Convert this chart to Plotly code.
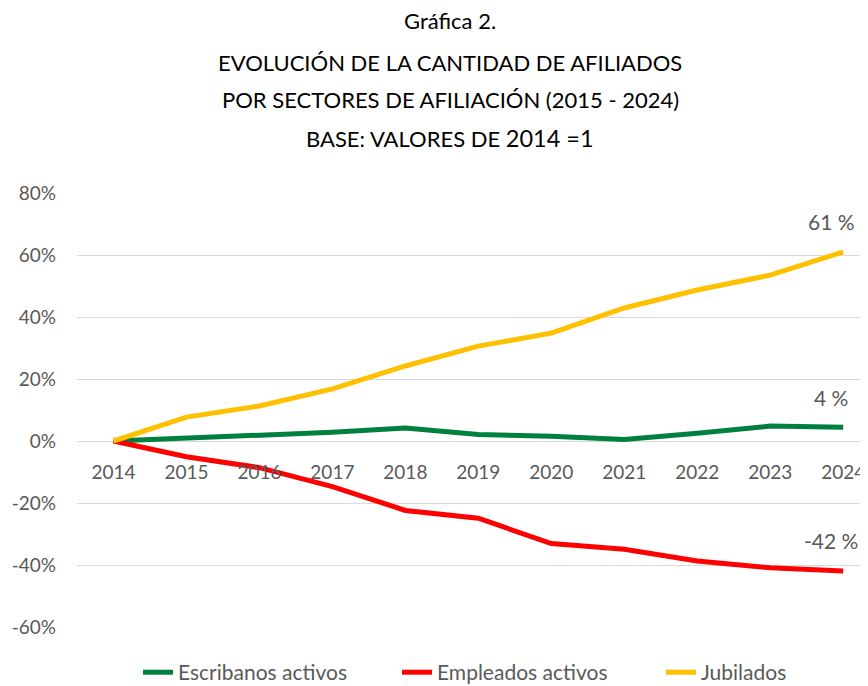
import plotly.graph_objects as go

years = ["2014", "2015", "2016", "2017", "2018", "2019", "2020", "2021", "2022", "2023", "2024"]
escribanos = [0.0, 0.010, 0.017, 0.028, 0.042, 0.021, 0.015, 0.005, 0.025, 0.048, 0.044]
empleados = [0.0, -0.051, -0.086, -0.147, -0.224, -0.249, -0.331, -0.349, -0.387, -0.409, -0.419]
jubilados = [0.0, 0.077, 0.113, 0.168, 0.242, 0.306, 0.348, 0.429, 0.487, 0.535, 0.610]
y_ticks = [-0.6, -0.4, -0.2, 0.0, 0.2, 0.4, 0.6, 0.8]
y_ticklabels = ["-60%", "-40%", "-20%", "0%", "20%", "40%", "60%", "80%"]

series = [
    ("Escribanos activos", escribanos, "#00803E", "legend"),
    ("Empleados activos", empleados, "#FF0000", "legend2"),
    ("Jubilados", jubilados, "#FFC000", "legend3"),
]
legend_x = {"legend": 0.0771, "legend2": 0.4046, "legend3": 0.7383}

FONT = "Lato, 'Open Sans', sans-serif"
GRAY = "#595959"

fig = go.Figure()
for name, vals, color, lg in series:
    fig.add_trace(go.Scatter(
        x=years, y=vals, mode="lines", name=name,
        line=dict(color=color, width=5),
        hoverinfo="skip", legend=lg,
    ))

# end labels
last = len(years) - 1
for name, vals, color, lg in series:
    fig.add_annotation(
        x=last, y=vals[-1], xref="x", yref="y",
        text=f"{round(vals[-1] * 100)} %", showarrow=False,
        yshift=30, xshift=-12,
        font=dict(family=FONT, size=21, color=GRAY),
    )

# title lines
title_lines = [
    ("Gráfica 2.", 1.3986),
    ("EVOLUCIÓN DE LA CANTIDAD DE AFILIADOS", 1.3018),
    ("POR SECTORES DE AFILIACIÓN (2015 - 2024)", 1.2143),
    ("BASE: VALORES DE <span style='font-size:23.5px'>2014 =1</span>", 1.1267),
]
for txt, yy in title_lines:
    fig.add_annotation(
        x=0.4716, y=yy, xref="paper", yref="paper",
        text=txt, showarrow=False, xanchor="center", yanchor="middle",
        font=dict(family=FONT, size=22, color="#000000"),
    )

legend_common = dict(
    orientation="h", y=-0.105, xanchor="left", yanchor="middle",
    font=dict(family=FONT, size=21, color=GRAY), bgcolor="rgba(0,0,0,0)",
)

fig.update_layout(
    width=860, height=678,
    margin=dict(l=69, r=0, t=185, b=59, autoexpand=False),
    paper_bgcolor="white", plot_bgcolor="white",
    showlegend=True,
    legend=dict(x=legend_x["legend"], **legend_common),
    legend2=dict(x=legend_x["legend2"], **legend_common),
    legend3=dict(x=legend_x["legend3"], **legend_common),
    font=dict(family=FONT, color=GRAY),
)

fig.update_yaxes(
    range=[-0.6, 0.8], tickvals=y_ticks, ticktext=y_ticklabels,
    showgrid=True, gridcolor="#D9D9D9", gridwidth=1.3,
    zeroline=True, zerolinecolor="#D9D9D9", zerolinewidth=1.3,
    showline=False, ticks="", ticklabelstandoff=20, automargin=False,
    tickfont=dict(family=FONT, size=19, color=GRAY),
)
fig.update_xaxes(
    type="category", range=[-0.5, 10.34],
    anchor="free", position=0.4286,
    showgrid=False, zeroline=False, showline=False,
    ticks="", ticklabelstandoff=18, automargin=False,
    tickfont=dict(family=FONT, size=19, color=GRAY),
)

fig.write_html("out.html")
